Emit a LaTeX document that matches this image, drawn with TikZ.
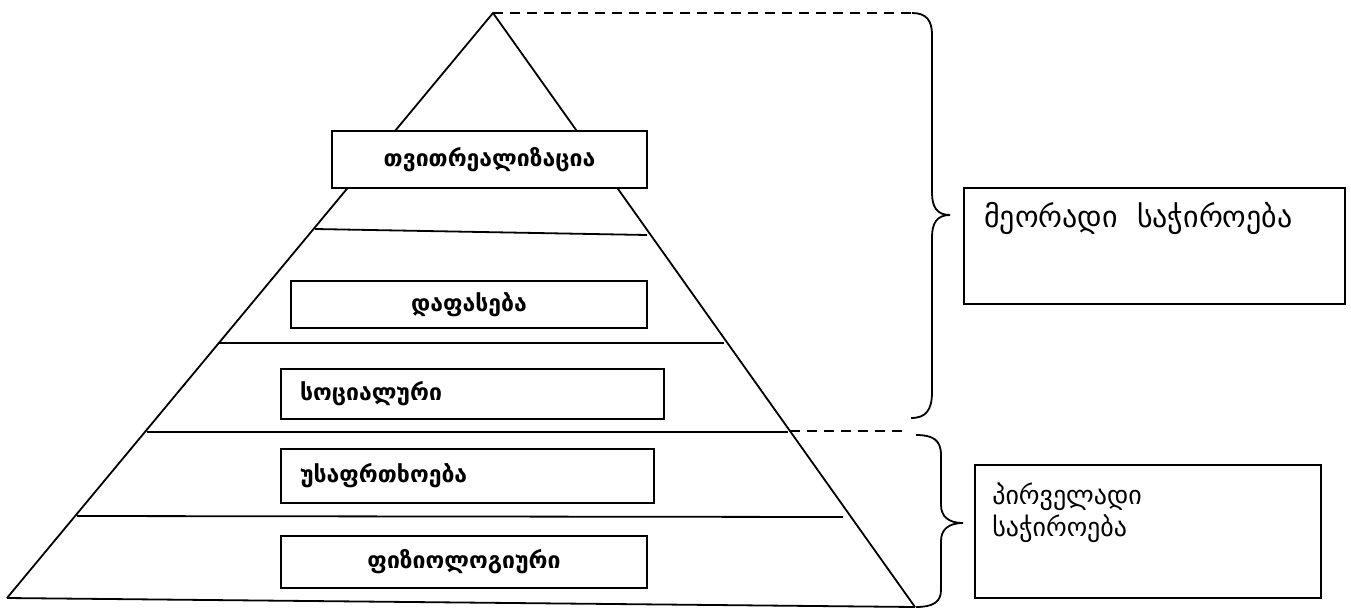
\documentclass[tikz,border=0pt]{standalone}
\usepackage{fontspec}
\setmainfont{DejaVu Sans}
\usetikzlibrary{calc}
\tikzset{
  edge/.style={line width=1.8pt, draw=black},
  guide/.style={line width=1.8pt, draw=black, dash pattern=on 10pt off 7pt},
  brc/.style={line width=1.8pt, draw=black},
  pbox/.style={draw, line width=1.8pt, fill=white, inner sep=0pt, font=\fontsize{23}{27}\selectfont\bfseries},
  pboxl/.style={pbox, inner xsep=19pt, align=left},
  needbox/.style={draw, line width=1.8pt, inner sep=0pt},
  needtxt/.style={anchor=north west, align=left, inner sep=0pt, font=\fontsize{30}{33}\selectfont}
}
\begin{document}
\begin{tikzpicture}[x=1pt, y=-1pt]
  \useasboundingbox (0,0) rectangle (1351,608);

  % pyramid
  \coordinate (apex) at (493,13);
  \coordinate (bl) at (7,598);
  \coordinate (br) at (915,607);
  \draw[edge] (bl) -- (apex) -- (br);
  \draw[edge] (bl) -- (br);
  \draw[edge] (315,229) -- (647,235);
  \draw[edge] (218,343) -- (724,343);
  \draw[edge] (147,432) -- (788,432);
  \draw[edge] (77,516) -- (843,517);

  % levels
  \node[pbox, minimum width=315pt, minimum height=57pt] (self) at (489.5,159.5) {თვითრეალიზაცია};
  \node[pbox, minimum width=356pt, minimum height=47pt] (esteem) at (469,304.5) {დაფასება};
  \node[pboxl, text width=345pt, minimum height=50pt] (social) at (472.5,394) {სოციალური};
  \node[pboxl, text width=335pt, minimum height=54pt] (safety) at (467.5,476) {უსაფრთხოება};
  \node[pbox, minimum width=366pt, minimum height=52pt] (physio) at (464,562) {ფიზიოლოგიური};

  % braces
  \coordinate (t1) at (912,13);
  \coordinate (g1) at (790,431);
  \coordinate (g2) at (905,431);
  \coordinate (t2) at (916,435);
  \draw[guide] (apex) -- (t1);
  \draw[guide] (g1) -- (g2);
  \draw[brc] (t1) .. controls (926,13) and (932,20) .. (932,35) -- (932,193)
    .. controls (932,207) and (937,215) .. (950,215)
    .. controls (937,215) and (932,223) .. (932,237) -- (932,392)
    .. controls (932,410) and (926,418) .. (911,418);
  \draw[brc] (t2) .. controls (933,435) and (941,440) .. (941,455) -- (941,505)
    .. controls (941,516) and (948,523) .. (963,523)
    .. controls (948,523) and (941,530) .. (941,541) -- (941,590)
    .. controls (941,602) and (933,607) .. (916,607);

  % needs
  \node[needbox, minimum width=381pt, minimum height=116pt] (sec) at (1154.5,246) {};
  \node[needtxt] (sectxt) at ($(sec.north west)+(21,15)$) {მეორადი\ \ საჭიროება};
  \node[needbox, minimum width=346pt, minimum height=133pt] (prim) at (1148,531.5) {};
  \node[needtxt, font=\fontsize{26}{32}\selectfont] (primtxt) at ($(prim.north west)+(18,19)$) {პირველადი\\საჭიროება};
\end{tikzpicture}
\end{document}
